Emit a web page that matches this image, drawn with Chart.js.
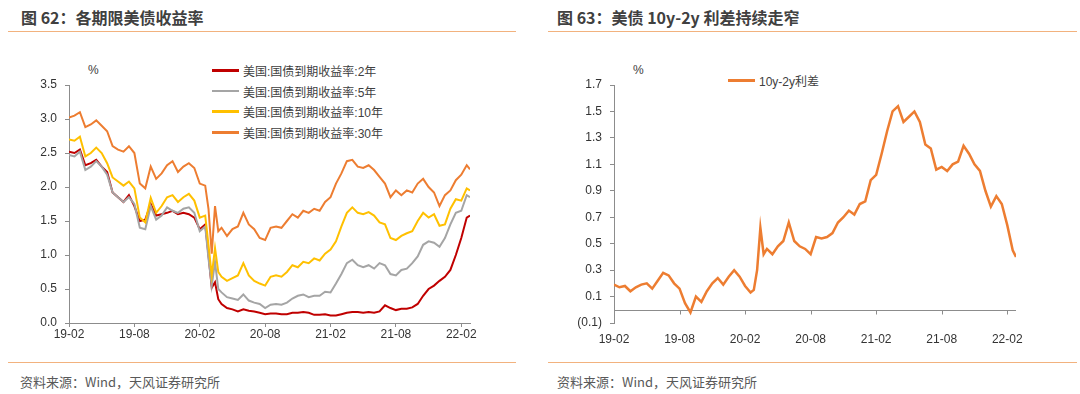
<!DOCTYPE html>
<html>
<head>
<meta charset="utf-8">
<script src="https://cdn.jsdelivr.net/npm/chart.js@4.4.1/dist/chart.umd.min.js"></script>
<style>
body { margin: 0; background: #fff; width: 1080px; height: 394px; position: relative; overflow: hidden; }
.title { position: absolute; top: 5px; line-height: 20px; font: bold 16px "Noto Sans CJK SC", sans-serif; color: #404040; }
.rule { position: absolute; height: 1px; background: #F2B27E; }
.src { position: absolute; top: 372px; line-height: 16px; font: 13px "Noto Sans CJK SC", sans-serif; color: #595959; }
.pct { position: absolute; top: 63px; line-height: 14px; font: 12px "Liberation Sans", sans-serif; color: #404040; }
.legend { position: absolute; font: 12px "Liberation Sans", "Noto Sans CJK SC", sans-serif; color: #404040; }
.legend div { height: 20.7px; display: flex; align-items: center; white-space: nowrap; }
.legend .sw { display: inline-block; width: 27px; height: 2.5px; margin-right: 4px; }
canvas { position: absolute; top: 0; }
</style>
</head>
<body>
<div class="title" style="left:21px">图 62：各期限美债收益率</div>
<div class="title" style="left:557px">图 63：美债 10y-2y 利差持续走窄</div>
<div class="rule" style="left:8px;width:508px;top:31px"></div>
<div class="rule" style="left:548px;width:529px;top:31px"></div>
<div class="rule" style="left:8px;width:508px;top:362px"></div>
<div class="rule" style="left:548px;width:529px;top:362px"></div>
<div class="src" style="left:20px">资料来源：Wind，天风证券研究所</div>
<div class="src" style="left:557px">资料来源：Wind，天风证券研究所</div>
<div class="pct" style="left:88px">%</div>
<div class="pct" style="left:633px">%</div>
<div class="legend" id="legend-left" style="left:212px;top:60px"></div>
<div class="legend" id="legend-right" style="left:728px;top:70px"></div>

<canvas id="left-chart" width="540" height="394" style="left:0"></canvas>
<canvas id="right-chart" width="540" height="394" style="left:540px"></canvas>

<script>
// x position of each point, in months since 2019-02
const xMonths = [0, 0.5, 1, 1.5, 2, 2.5, 3, 3.5, 4, 4.5, 5, 5.5, 6, 6.5, 7, 7.5, 8, 8.5, 9, 9.5,
    10, 10.5, 11, 11.5, 12, 12.5, 12.8, 13.1, 13.4, 13.7,
    14, 14.5, 15, 15.5, 16, 16.5, 17, 17.5, 18, 18.5, 19, 19.5, 20, 20.5, 21, 21.5, 22, 22.5, 23, 23.5,
    24, 24.5, 25, 25.5, 26, 26.5, 27, 27.5, 28, 28.5, 29, 29.5, 30, 30.5, 31, 31.5, 32, 32.5, 33, 33.5,
    34, 34.5, 35, 35.5, 36, 36.5, 36.8];

const xTickValues = [0, 6, 12, 18, 24, 30, 36];
const xTickLabels = ["19-02", "19-08", "20-02", "20-08", "21-02", "21-08", "22-02"];

const leftYTicks = [0, 0.5, 1, 1.5, 2, 2.5, 3, 3.5];
const rightYTicks = [-0.1, 0.1, 0.3, 0.5, 0.7, 0.9, 1.1, 1.3, 1.5, 1.7];

const seriesNames = ["美国:国债到期收益率:2年", "美国:国债到期收益率:5年", "美国:国债到期收益率:10年", "美国:国债到期收益率:30年"];
const seriesColors = ["#C00000", "#A5A5A5", "#FFC000", "#ED7D31"];

const yield2y = [2.52, 2.50, 2.55, 2.32, 2.35, 2.40, 2.30, 2.22, 1.92, 1.85, 1.78, 1.88, 1.72, 1.50, 1.52, 1.75, 1.58, 1.60, 1.62, 1.65,
    1.60, 1.62, 1.60, 1.55, 1.38, 1.45, 1.00, 0.52, 0.60, 0.35,
    0.28, 0.22, 0.20, 0.17, 0.20, 0.18, 0.17, 0.15, 0.13, 0.14, 0.14, 0.13, 0.13, 0.15, 0.15, 0.16, 0.15, 0.12, 0.12, 0.13,
    0.11, 0.11, 0.13, 0.15, 0.16, 0.16, 0.15, 0.16, 0.15, 0.17, 0.26, 0.22, 0.19, 0.21, 0.21, 0.23, 0.28, 0.40, 0.50, 0.55,
    0.62, 0.68, 0.78, 1.00, 1.25, 1.55, 1.58];

const yield5y = [2.47, 2.45, 2.52, 2.25, 2.30, 2.38, 2.30, 2.18, 1.92, 1.85, 1.78, 1.85, 1.75, 1.40, 1.38, 1.72, 1.52, 1.58, 1.70, 1.65,
    1.62, 1.68, 1.70, 1.62, 1.35, 1.42, 0.95, 0.55, 0.90, 0.50,
    0.45, 0.38, 0.36, 0.34, 0.42, 0.33, 0.30, 0.28, 0.22, 0.27, 0.28, 0.27, 0.30, 0.36, 0.40, 0.42, 0.38, 0.40, 0.40, 0.46,
    0.45, 0.58, 0.72, 0.88, 0.93, 0.85, 0.82, 0.85, 0.80, 0.88, 0.85, 0.72, 0.70, 0.78, 0.80, 0.88, 0.98, 1.15, 1.20, 1.18,
    1.12, 1.25, 1.45, 1.62, 1.65, 1.88, 1.85];

const yield10y = [2.70, 2.68, 2.74, 2.45, 2.50, 2.58, 2.50, 2.35, 2.14, 2.08, 2.02, 2.08, 1.98, 1.55, 1.48, 1.84, 1.62, 1.72, 1.85, 1.88,
    1.78, 1.85, 1.90, 1.80, 1.55, 1.58, 1.15, 0.70, 1.10, 0.75,
    0.68, 0.62, 0.66, 0.70, 0.88, 0.70, 0.62, 0.58, 0.55, 0.68, 0.70, 0.68, 0.75, 0.85, 0.82, 0.90, 0.88, 0.95, 0.92, 1.02,
    1.08, 1.20, 1.42, 1.62, 1.70, 1.62, 1.60, 1.63, 1.58, 1.48, 1.45, 1.25, 1.22, 1.28, 1.32, 1.35, 1.50, 1.62, 1.55, 1.60,
    1.43, 1.45, 1.68, 1.82, 1.80, 1.98, 1.95];

const yield30y = [3.02, 3.05, 3.10, 2.88, 2.92, 2.98, 2.90, 2.82, 2.60, 2.55, 2.52, 2.60, 2.50, 2.05, 1.98, 2.30, 2.12, 2.20, 2.32, 2.38,
    2.22, 2.30, 2.35, 2.28, 2.05, 2.02, 1.68, 1.02, 1.72, 1.35,
    1.40, 1.28, 1.38, 1.42, 1.62, 1.45, 1.38, 1.25, 1.22, 1.40, 1.42, 1.40, 1.50, 1.60, 1.55, 1.65, 1.62, 1.68, 1.65, 1.78,
    1.85, 2.05, 2.20, 2.38, 2.40, 2.30, 2.28, 2.32, 2.25, 2.15, 2.05, 1.85, 1.95, 1.88, 1.95, 1.92, 2.05, 2.12, 2.00, 1.92,
    1.72, 1.88, 1.95, 2.10, 2.18, 2.32, 2.26];

const spreadName = "10y-2y利差";
const spreadColor = "#ED7D31";
const spread = [0.19, 0.17, 0.18, 0.14, 0.17, 0.19, 0.20, 0.16, 0.22, 0.28, 0.26, 0.20, 0.16, 0.05, -0.02, 0.10, 0.06, 0.14, 0.20, 0.24,
    0.19, 0.25, 0.30, 0.25, 0.18, 0.13, 0.15, 0.30, 0.62, 0.42,
    0.46, 0.42, 0.48, 0.52, 0.66, 0.52, 0.48, 0.46, 0.42, 0.55, 0.54, 0.55, 0.58, 0.66, 0.70, 0.75, 0.72, 0.80, 0.82, 0.98,
    1.02, 1.18, 1.35, 1.50, 1.54, 1.42, 1.46, 1.50, 1.42, 1.25, 1.22, 1.06, 1.08, 1.05, 1.10, 1.12, 1.24, 1.18, 1.10, 1.05,
    0.90, 0.78, 0.86, 0.80, 0.64, 0.45, 0.40];

const fontTick = { family: "Liberation Sans", size: 12 };
const axisGray = "#8C8C8C";

function toPoints(values) {
    return xMonths.map((m, i) => ({ x: m, y: values[i] }));
}

function monthLabel(value) {
    let idx = xTickValues.indexOf(value);
    return idx >= 0 ? xTickLabels[idx] : "";
}

function spreadLabel(value) {
    let v = Math.round(value * 10) / 10;
    if (v < 0) {
        return "(" + Math.abs(v).toFixed(1) + ")";
    }
    return v.toFixed(1);
}

function buildLegend(id, names, colors) {
    const box = document.getElementById(id);
    names.forEach((name, i) => {
        const row = document.createElement("div");
        row.innerHTML = `<span class="sw" style="background:${colors[i]}"></span>${name}`;
        box.appendChild(row);
    });
}

buildLegend("legend-left", seriesNames, seriesColors);
buildLegend("legend-right", [spreadName], [spreadColor]);

function xScaleOptions(height, showAxis, pad) {
    return {
        type: "linear",
        min: 0,
        max: 36.8,
        afterBuildTicks: (s) => { s.ticks = xTickValues.map(v => ({ value: v })); },
        afterFit: (s) => { s.height = height; },
        border: { display: showAxis, color: axisGray, width: 1 },
        grid: { display: showAxis, drawOnChartArea: false, drawTicks: true, tickLength: 4, color: axisGray },
        ticks: { color: "#333", font: fontTick, padding: pad, maxRotation: 0, autoSkip: false, callback: monthLabel }
    };
}

function yScaleOptions(min, max, tickValues, width, fmt) {
    return {
        min: min,
        max: max,
        afterBuildTicks: (s) => { s.ticks = tickValues.map(v => ({ value: v })); },
        afterFit: (s) => { s.width = width; },
        border: { display: true, color: axisGray, width: 1 },
        grid: { drawOnChartArea: false, drawTicks: true, tickLength: 4, color: axisGray },
        ticks: { color: "#333", font: fontTick, padding: 8, callback: fmt }
    };
}

const yieldData = [yield2y, yield5y, yield10y, yield30y];

new Chart(document.getElementById("left-chart").getContext("2d"), {
    type: "line",
    data: {
        datasets: yieldData.map((vals, i) => ({
            label: seriesNames[i],
            data: toPoints(vals),
            borderColor: seriesColors[i],
            borderWidth: 2,
            pointRadius: 0,
            tension: 0,
            order: 4 - i
        }))
    },
    options: {
        responsive: false,
        animation: false,
        devicePixelRatio: 1,
        layout: { padding: { left: 0, right: 70, top: 85, bottom: 0 } },
        plugins: { legend: { display: false }, tooltip: { enabled: false } },
        scales: {
            x: xScaleOptions(71, true, 0),
            y: yScaleOptions(0, 3.5, leftYTicks, 69, v => v.toFixed(1))
        }
    }
});

// x axis line sits on zero, labels stay at the bottom
const zeroAxis = {
    id: "zeroAxis",
    beforeDatasetsDraw(chart) {
        const ctx = chart.ctx;
        const xs = chart.scales.x;
        const y0 = Math.round(chart.scales.y.getPixelForValue(0)) + 0.5;
        ctx.save();
        ctx.strokeStyle = axisGray;
        ctx.lineWidth = 1;
        ctx.beginPath();
        ctx.moveTo(chart.chartArea.left, y0);
        ctx.lineTo(chart.chartArea.right, y0);
        xTickValues.forEach(v => {
            const px = Math.round(xs.getPixelForValue(v)) + 0.5;
            ctx.moveTo(px, y0);
            ctx.lineTo(px, y0 + 4);
        });
        ctx.stroke();
        ctx.restore();
    }
};

new Chart(document.getElementById("right-chart").getContext("2d"), {
    type: "line",
    data: {
        datasets: [{
            label: spreadName,
            data: toPoints(spread),
            borderColor: spreadColor,
            borderWidth: 2.5,
            pointRadius: 0,
            tension: 0
        }]
    },
    options: {
        responsive: false,
        animation: false,
        devicePixelRatio: 1,
        layout: { padding: { left: 0, right: 64, top: 85, bottom: 0 } },
        plugins: { legend: { display: false }, tooltip: { enabled: false } },
        scales: {
            x: xScaleOptions(71, false, 5),
            y: yScaleOptions(-0.1, 1.7, rightYTicks, 74, spreadLabel)
        }
    },
    plugins: [zeroAxis]
});
</script>
</body>
</html>
